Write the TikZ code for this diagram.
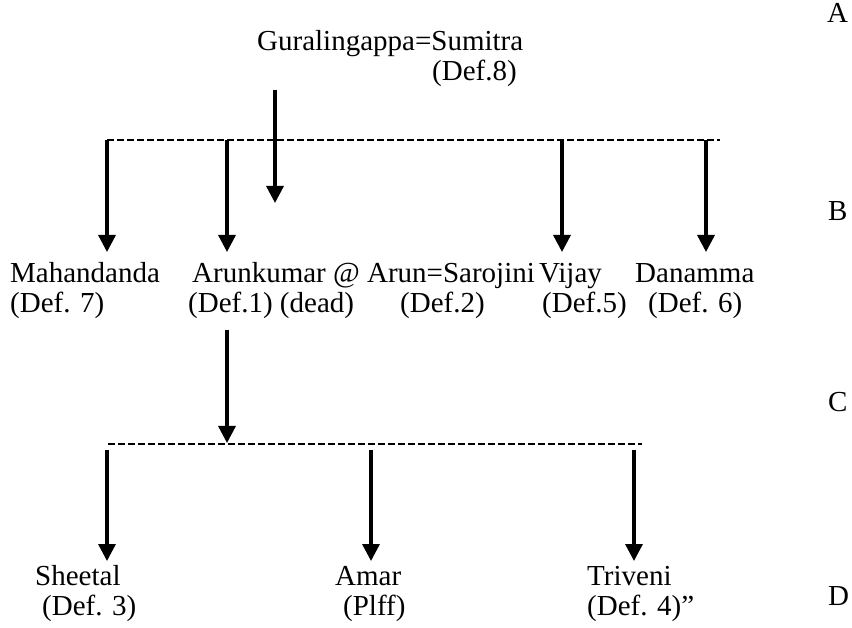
\documentclass[tikz,border=0pt]{standalone}
\usepackage{fontspec}
\setmainfont{Liberation Serif}
\usetikzlibrary{arrows.meta}
\begin{document}
\begin{tikzpicture}[x=1pt,y=-1pt,
  lbl/.style={anchor=base west, inner sep=0pt, font=\fontsize{29}{31}\selectfont},
  arr/.style={line width=3.3pt, -{Triangle[width=17pt,length=17pt]}},
  bus/.style={line width=2pt, dash pattern=on 7pt off 3pt}]
\useasboundingbox (0,0) rectangle (852,628);
% side letters
\node[lbl] (A) at (827,23) {A};
\node[lbl] (B) at (828,221) {B};
\node[lbl] (C) at (828,412) {C};
\node[lbl] (D) at (828,605) {D};
% top
\node[lbl] (g) at (257,51) {Guralingappa=Sumitra};
\node[lbl] (g8) at (432,81) {(Def.8)};
% row B
\node[lbl] (mah) at (10,283) {Mahandanda};
\node[lbl] (mah7) at (10,313) {(Def. 7)};
\node[lbl] (arun) at (192,283) {Arunkumar @ Arun=Sarojini};
\node[lbl] (def1) at (188,313) {(Def.1) (dead)};
\node[lbl] (def2) at (400,313) {(Def.2)};
\node[lbl] (vijay) at (539,283) {Vijay};
\node[lbl] (def5) at (542,313) {(Def.5)};
\node[lbl] (dan) at (635,283) {Danamma};
\node[lbl] (def6) at (648,313) {(Def. 6)};
% row D
\node[lbl] (sheetal) at (35,585) {Sheetal};
\node[lbl] (def3) at (42,615) {(Def. 3)};
\node[lbl] (amar) at (335,585) {Amar};
\node[lbl] (plff) at (343,615) {(Plff)};
\node[lbl] (triveni) at (587,585) {Triveni};
\node[lbl] (def4) at (587,615) {(Def. 4)”};
% coordinates
\coordinate (p0) at (275,90);
\coordinate (p1) at (275,203);
\coordinate (b1l) at (107,140);
\coordinate (b1r) at (720,140);
\coordinate (b1a) at (107,140);
\coordinate (b1b) at (227,140);
\coordinate (b1c) at (562,140);
\coordinate (b1d) at (706,140);
\coordinate (t1a) at (107,252);
\coordinate (t1b) at (227,252);
\coordinate (t1c) at (562,252);
\coordinate (t1d) at (706,252);
\coordinate (q0) at (227,330);
\coordinate (q1) at (227,443);
\coordinate (b2l) at (108,444);
\coordinate (b2r) at (642,444);
\coordinate (s2a) at (107,450);
\coordinate (s2b) at (371,450);
\coordinate (s2c) at (634,450);
\coordinate (t2a) at (107,561);
\coordinate (t2b) at (371,561);
\coordinate (t2c) at (634,561);
% connectors
\draw[bus] (b1l) -- (b1r);
\draw[arr] (p0) -- (p1);
\draw[arr] (b1a) -- (t1a);
\draw[arr] (b1b) -- (t1b);
\draw[arr] (b1c) -- (t1c);
\draw[arr] (b1d) -- (t1d);
\draw[bus] (b2l) -- (b2r);
\draw[arr] (q0) -- (q1);
\draw[arr] (s2a) -- (t2a);
\draw[arr] (s2b) -- (t2b);
\draw[arr] (s2c) -- (t2c);
\end{tikzpicture}
\end{document}
